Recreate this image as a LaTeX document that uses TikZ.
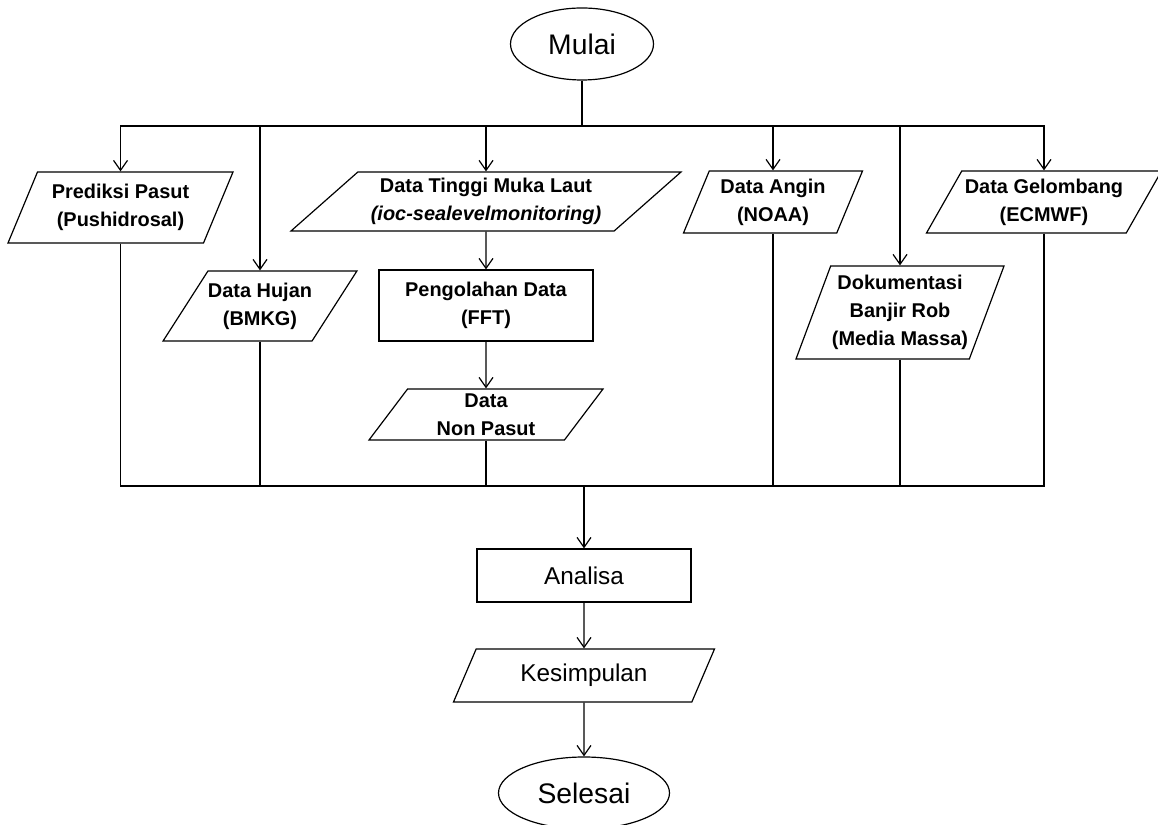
\documentclass[tikz,border=0pt]{standalone}
\usepackage{fontspec}
\setmainfont{Liberation Sans}
\usetikzlibrary{shapes.geometric,arrows.meta}
\begin{document}
\begin{tikzpicture}[line width=0.6pt,>={Straight Barb[length=5bp,width=7bp]},
  terminal/.style={draw,ellipse,inner sep=0pt,font=\fontsize{14.2}{16}\selectfont},
  proc/.style={draw,rectangle,inner sep=0pt,align=center},
  io/.style={draw,trapezium,trapezium left angle=#1,trapezium right angle={180-#1},
    trapezium stretches body,inner sep=0pt,align=center},
  lbl/.style={font=\fontsize{10}{14}\selectfont\bfseries},
  big/.style={font=\fontsize{12.2}{14}\selectfont}]
  \useasboundingbox (0bp,0bp) rectangle (579bp,412.5bp);
  \node (Mulai) at (291bp,390.5bp) [terminal,minimum width=71.5bp,minimum height=36bp] {Mulai};
  \node (Prediksi) at (60.25bp,308.75bp) [io=57.6,lbl,minimum width=112.5bp,minimum height=35.5bp] {Prediksi Pasut\\(Pushidrosal)};
  \node (Hujan) at (130bp,259.5bp) [io=46,lbl,minimum width=92bp,minimum height=35bp] {Data Hujan\\(BMKG)};
  \node (Tinggi) at (243bp,311.75bp) [io=34.8,lbl,minimum width=195bp,minimum height=29.5bp] {Data Tinggi Muka Laut\\\textit{(ioc-sealevelmonitoring)}};
  \node (Olah) at (243bp,259.75bp) [proc,lbl,minimum width=107bp,minimum height=35.5bp] {Pengolahan Data\\(FFT)};
  \node (NonPasut) at (243bp,205.25bp) [io=47.3,lbl,minimum width=117bp,minimum height=25.5bp] {Data\\Non Pasut};
  \node (Angin) at (386.5bp,311.5bp) [io=61,lbl,minimum width=89.5bp,minimum height=31bp] {Data Angin\\(NOAA)};
  \node (Dokumentasi) at (450bp,256.25bp) [io=65,lbl,minimum width=104bp,minimum height=46.5bp] {Dokumentasi\\Banjir Rob\\(Media Massa)};
  \node (Gelombang) at (522bp,311.5bp) [io=52.8,lbl,minimum width=117.5bp,minimum height=31bp] {Data Gelombang\\(ECMWF)};
  \node (Analisa) at (292bp,124.75bp) [proc,big,minimum width=107bp,minimum height=26.5bp] {Analisa};
  \node (Kesimpulan) at (292bp,74.75bp) [io=45,big,minimum width=130.5bp,minimum height=26.5bp] {Kesimpulan};
  \node (Selesai) at (292bp,16bp) [terminal,minimum width=85.5bp,minimum height=36bp] {Selesai};
  \coordinate (split) at (291bp,349.5bp);
  \coordinate (join) at (292bp,169.5bp);
  \draw (Mulai) -- (split);
  \draw [->] (split) -| (Prediksi);
  \draw [->] (split) -| (Hujan);
  \draw [->] (split) -| (Tinggi);
  \draw [->] (split) -| (Angin);
  \draw [->] (split) -| (Dokumentasi);
  \draw [->] (split) -| (Gelombang);
  \draw [->] (Tinggi) -- (Olah);
  \draw [->] (Olah) -- (NonPasut);
  \draw (Prediksi) |- (join);
  \draw (Hujan) |- (join);
  \draw (NonPasut) |- (join);
  \draw (Angin) |- (join);
  \draw (Dokumentasi) |- (join);
  \draw (Gelombang) |- (join);
  \draw [->] (join) -- (Analisa);
  \draw [->] (Analisa) -- (Kesimpulan);
  \draw [->] (Kesimpulan) -- (Selesai);
\end{tikzpicture}
\end{document}
